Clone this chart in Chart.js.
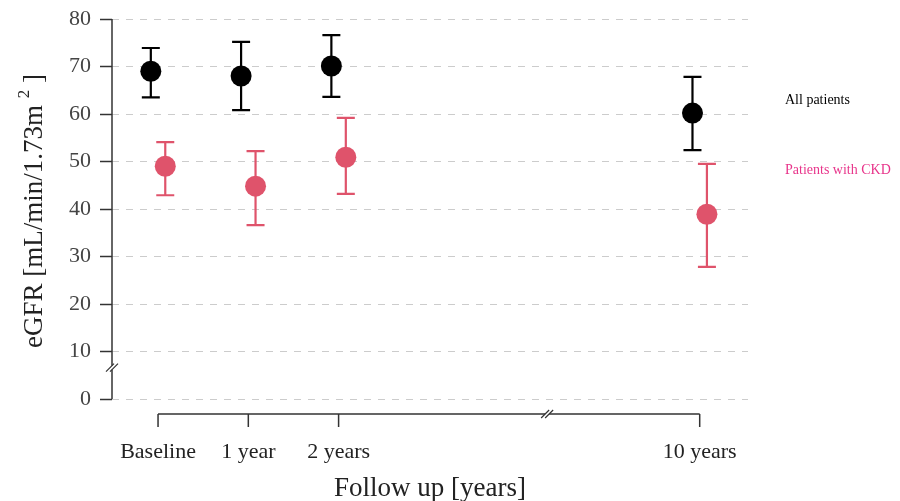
<!DOCTYPE html>
<html>
<head>
<meta charset="utf-8">
<script src="https://cdn.jsdelivr.net/npm/chart.js@4.4.1/dist/chart.umd.min.js"></script>
<style>
  html, body { margin: 0; padding: 0; background: #fff; }
  #wrap { width: 900px; height: 501px; }
</style>
</head>
<body>
<div id="wrap"><canvas id="myChart"></canvas></div>
<script>
// datos
const visitas = ['Baseline', '1 year', '2 years', '10 years'];
const posiciones = [0, 1, 2, 6];
const todosMedia = [69, 68, 70.1, 60.2];
const todosBajo = [63.5, 60.8, 63.6, 52.4];
const todosAlto = [73.9, 75.2, 76.6, 67.8];
const ckdMedia = [49, 44.8, 50.9, 38.9];
const ckdBajo = [42.9, 36.6, 43.2, 27.8];
const ckdAlto = [54.1, 52.2, 59.2, 49.5];
const yTicks = [0, 10, 20, 30, 40, 50, 60, 70, 80];

const negro = '#000000';
const rojo = '#df536b';
const rosa = '#e8358b';
const fuente = '"Liberation Serif", "Times New Roman", serif';
const desplazo = 0.08; // separacion de las dos series
const corteX = 4.31;   // marca de corte en el eje x
const corteY = 6.6;    // marca de corte en el eje y

const ctx = document.getElementById('myChart');

function puntos(media, signo) {
  return media.map((v, i) => ({ x: posiciones[i] + signo * desplazo, y: v }));
}

function marcaCorte(c, px, py) {
  c.save();
  c.strokeStyle = '#333';
  c.lineWidth = 1.2;
  c.beginPath();
  c.moveTo(px - 6, py + 4);
  c.lineTo(px + 2, py - 4);
  c.moveTo(px - 2, py + 4);
  c.lineTo(px + 6, py - 4);
  c.stroke();
  c.restore();
}

const extras = {
  id: 'extras',
  beforeDatasetsDraw(chart) {
    const c = chart.ctx;
    const { x, y } = chart.scales;
    const series = [
      { bajo: todosBajo, alto: todosAlto, signo: -1, color: negro },
      { bajo: ckdBajo, alto: ckdAlto, signo: 1, color: rojo }
    ];
    c.save();
    c.lineWidth = 2.2;
    series.forEach((s) => {
      c.strokeStyle = s.color;
      posiciones.forEach((p, i) => {
        const px = x.getPixelForValue(p + s.signo * desplazo);
        const y1 = y.getPixelForValue(s.bajo[i]);
        const y2 = y.getPixelForValue(s.alto[i]);
        c.beginPath();
        c.moveTo(px, y1); c.lineTo(px, y2);
        c.moveTo(px - 9, y1); c.lineTo(px + 9, y1);
        c.moveTo(px - 9, y2); c.lineTo(px + 9, y2);
        c.stroke();
      });
    });
    c.restore();
  },
  afterDraw(chart) {
    const c = chart.ctx;
    const { x, y } = chart.scales;
    const area = chart.chartArea;
    c.save();

    // eje y
    c.strokeStyle = '#333';
    c.lineWidth = 1.5;
    c.beginPath();
    c.moveTo(area.left, y.getPixelForValue(80));
    c.lineTo(area.left, y.getPixelForValue(0));
    c.stroke();
    c.fillStyle = '#fff';
    c.fillRect(area.left - 3, y.getPixelForValue(corteY) - 2, 6, 4);
    marcaCorte(c, area.left, y.getPixelForValue(corteY));

    // eje x (separado del area)
    const ejeY = area.bottom + 15;
    const xa = x.getPixelForValue(posiciones[0]);
    const xb = x.getPixelForValue(posiciones[posiciones.length - 1]);
    c.strokeStyle = '#333';
    c.lineWidth = 1.5;
    c.beginPath();
    c.moveTo(xa, ejeY); c.lineTo(xb, ejeY);
    posiciones.forEach((p) => {
      const px = x.getPixelForValue(p);
      c.moveTo(px, ejeY); c.lineTo(px, ejeY + 13);
    });
    c.stroke();
    const cx = x.getPixelForValue(corteX);
    c.fillStyle = '#fff';
    c.fillRect(cx - 2, ejeY - 3, 4, 6);
    marcaCorte(c, cx, ejeY);

    // titulos
    c.fillStyle = '#222';
    c.font = '27px ' + fuente;
    c.textAlign = 'center';
    c.textBaseline = 'middle';
    c.fillText('Follow up [years]', 430, 489);

    c.save();
    c.translate(35, 211);
    c.rotate(-Math.PI / 2);
    const parte1 = 'eGFR [mL/min/1.73m ';
    const parte2 = '2';
    const parte3 = ' ]';
    c.font = '27px ' + fuente;
    const w1 = c.measureText(parte1).width;
    const w3 = c.measureText(parte3).width;
    c.font = '17px ' + fuente;
    const w2 = c.measureText(parte2).width;
    const total = w1 + w2 + w3;
    c.textAlign = 'left';
    c.font = '27px ' + fuente;
    c.fillText(parte1, -total / 2, 0);
    c.fillText(parte3, -total / 2 + w1 + w2, 0);
    c.font = '17px ' + fuente;
    c.fillText(parte2, -total / 2 + w1, -10);
    c.restore();

    // leyenda
    c.font = '14px ' + fuente;
    c.textAlign = 'left';
    c.fillStyle = negro;
    c.fillText('All patients', 785, 100);
    c.fillStyle = rosa;
    c.fillText('Patients with CKD', 785, 170);
    c.restore();
  }
};

const chart = new Chart(ctx, {
  type: 'scatter',
  data: {
    datasets: [
      {
        label: 'All patients',
        data: puntos(todosMedia, -1),
        backgroundColor: negro,
        borderWidth: 0,
        pointRadius: 10.5,
        pointHoverRadius: 10.5
      },
      {
        label: 'Patients with CKD',
        data: puntos(ckdMedia, 1),
        backgroundColor: rojo,
        borderWidth: 0,
        pointRadius: 10.5,
        pointHoverRadius: 10.5
      }
    ]
  },
  options: {
    responsive: true,
    maintainAspectRatio: false,
    animation: false,
    layout: { padding: { top: 19, right: 152, left: 0, bottom: 0 } },
    plugins: {
      legend: { display: false },
      tooltip: { enabled: false }
    },
    scales: {
      x: {
        type: 'linear',
        min: -0.51,
        max: 6.535,
        grid: { display: false },
        border: { display: false },
        afterBuildTicks: (scale) => {
          scale.ticks = posiciones.map((p) => ({ value: p }));
        },
        afterFit: (scale) => {
          scale.height = 102;
          scale.paddingLeft = 0;
          scale.paddingRight = 0;
        },
        ticks: {
          autoSkip: false,
          maxRotation: 0,
          padding: 32,
          color: '#222',
          font: { family: fuente, size: 22 },
          callback: (value) => visitas[posiciones.indexOf(value)]
        }
      },
      y: {
        min: 0,
        max: 80,
        afterBuildTicks: (scale) => {
          scale.ticks = yTicks.map((v) => ({ value: v }));
        },
        afterFit: (scale) => {
          scale.width = 112;
          scale.paddingTop = 0;
          scale.paddingBottom = 0;
        },
        grid: {
          color: '#cccccc',
          lineWidth: 1,
          tickLength: 12,
          tickColor: '#333',
          tickWidth: 1.5,
          tickBorderDash: []
        },
        border: { display: false, dash: [7, 7] },
        ticks: {
          padding: 9,
          color: '#444',
          font: { family: fuente, size: 22 }
        }
      }
    }
  },
  plugins: [extras]
});
</script>
</body>
</html>
